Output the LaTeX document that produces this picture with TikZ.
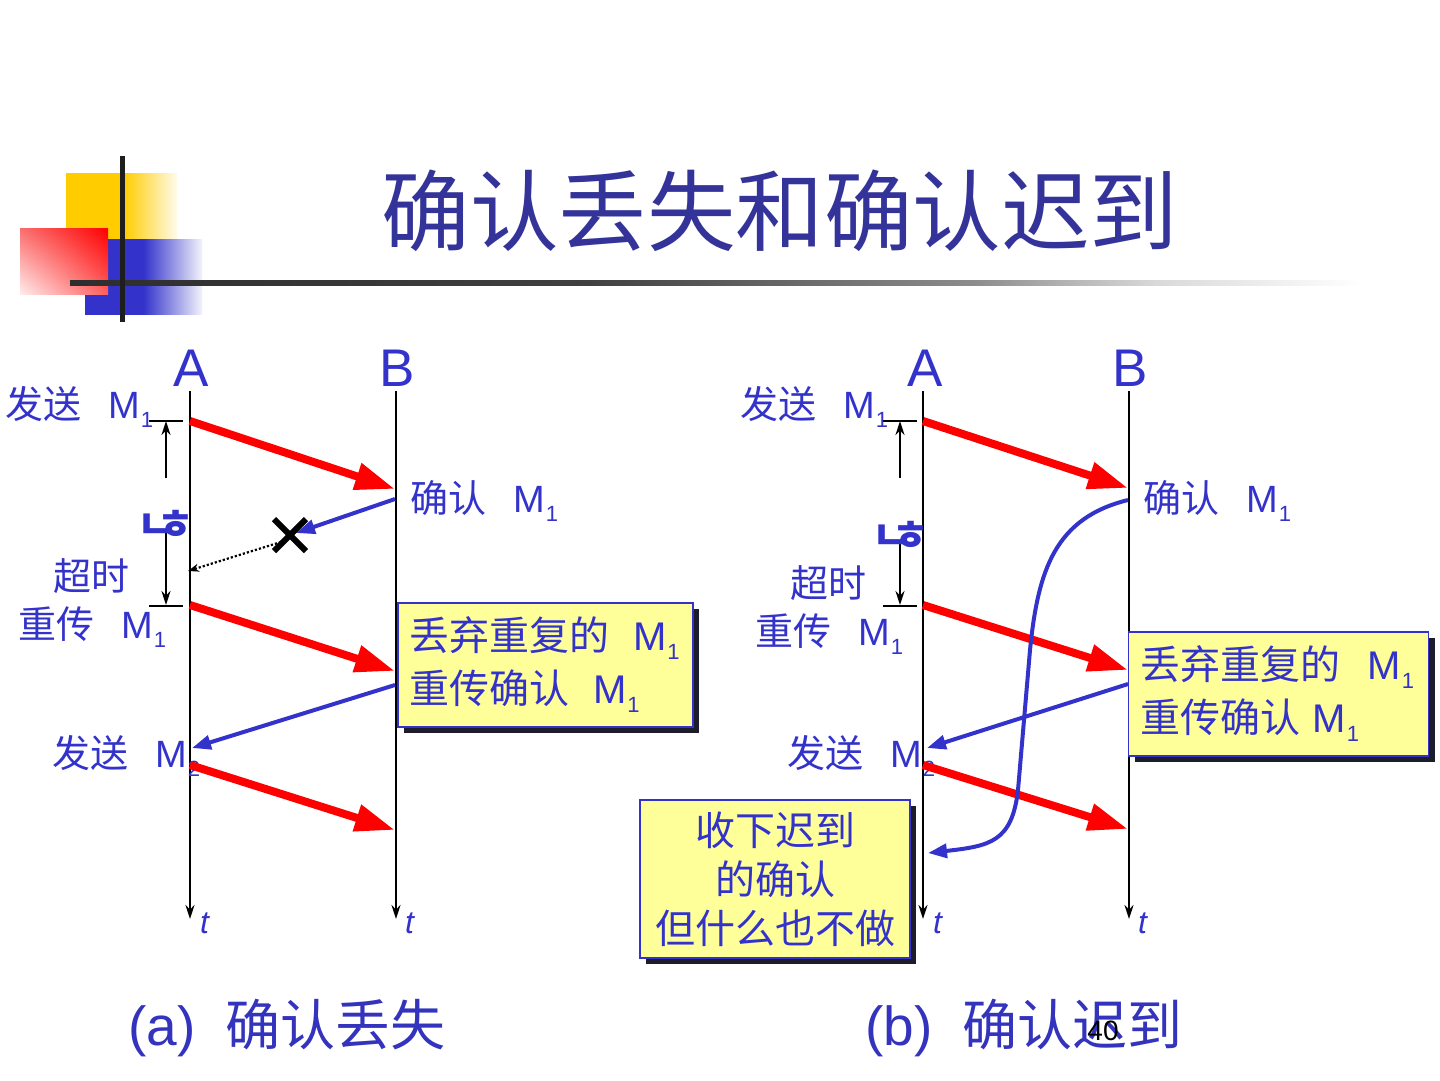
\documentclass[tikz,border=0pt]{standalone}
\usepackage{fontspec}
\setmainfont{Liberation Sans}
\newfontfamily\cjkf{Noto Sans CJK SC}
\newfontfamily\kof{Noto Sans CJK KR}
\usetikzlibrary{arrows.meta,shadows,shadings}
\definecolor{tblue}{RGB}{51,51,204}
\definecolor{ttl}{RGB}{51,51,153}
\definecolor{capb}{RGB}{51,51,190}
\definecolor{boxy}{RGB}{255,255,153}
\definecolor{myred}{RGB}{255,0,0}
\definecolor{myyel}{RGB}{255,204,0}
\definecolor{shd}{RGB}{28,28,45}
\definecolor{decol}{RGB}{30,30,30}
\definecolor{rul}{RGB}{250,110,110}
\definecolor{rur}{RGB}{255,0,0}
\definecolor{rll}{RGB}{255,236,236}
\definecolor{rlr}{RGB}{255,95,95}
\pgfdeclarehorizontalshading{hlsh}{100bp}{color(0bp)=(black!82); color(25bp)=(black!82); color(45bp)=(black!75); color(60bp)=(black!45); color(67bp)=(black!15); color(75bp)=(white); color(100bp)=(white)}
\pgfdeclarehorizontalshading{yelsh}{100bp}{color(0bp)=(myyel); color(25bp)=(myyel); color(51bp)=(myyel); color(75bp)=(myyel!8); color(100bp)=(myyel!8)}
\pgfdeclarehorizontalshading{blush}{100bp}{color(0bp)=(tblue); color(25bp)=(tblue); color(50bp)=(tblue); color(75bp)=(tblue!6); color(100bp)=(tblue!6)}
\newcommand\zh[1]{{\cjkf #1}}
\newcommand\Ms[1]{M\kern1pt{\fontsize{22}{22}\selectfont\raisebox{-9pt}{#1}}}
\tikzset{
  lbl/.style={text=tblue, inner sep=0pt, anchor=base west, font=\fontsize{38}{38}\selectfont},
  bigl/.style={text=tblue, inner sep=0pt, anchor=base, font=\fontsize{53}{53}\selectfont},
  tlab/.style={text=tblue, inner sep=0pt, anchor=base west, font=\fontsize{32}{32}\selectfont\itshape},
  capl/.style={text=capb, inner sep=0pt, anchor=base west, font=\fontsize{55}{55}\selectfont},
  kol/.style={text=tblue, inner sep=0pt, font=\kof\bfseries\fontsize{40}{40}\selectfont},
  tline/.style={line width=2pt, -{Stealth[length=14pt,width=9pt]}},
  tick/.style={line width=2pt},
  timer/.style={line width=2pt, -{Stealth[length=14pt,width=9pt]}},
  redarr/.style={myred, line width=8pt, -{Triangle[length=40pt,width=26pt]}},
  bluearr/.style={tblue, line width=4pt, -{Triangle[length=19pt,width=14pt]}},
  dotarr/.style={line width=2.2pt, dotted, -{Stealth[length=11pt,width=8pt]}},
  xmark/.style={line width=6pt},
  infobox/.style={draw=tblue, line width=1.5pt, fill=boxy, text=tblue,
     font=\fontsize{40}{53}\selectfont, inner xsep=11pt, inner ysep=0pt,
     drop shadow={shadow xshift=6pt, shadow yshift=-6pt, fill=shd, opacity=1}},
}
\begin{document}
\begin{tikzpicture}[x=1pt,y=-1pt]
\useasboundingbox (0,0) rectangle (1440,1080);
% ---------- decoration ----------
\shade[shading=yelsh] (66,173) rectangle (177,239);
\shade[shading=blush] (85,239) rectangle (202,314);
\shade[upper left=rul, upper right=rur, lower left=rll, lower right=rlr] (20,228) rectangle (108,294);
\shade[shading=hlsh] (70,280.5) rectangle (1362,285.5);
\fill[decol] (120,156) rectangle (125,322);
% ---------- title ----------
\node[text=ttl, inner sep=0pt, anchor=base, font=\cjkf\fontsize{88.5}{88.5}\selectfont] (title) at (780,244) {确认丢失和确认迟到};

% ================= (a) =================
\node[bigl] (Aa) at (191,386) {A};
\node[bigl] (Ba) at (397,386) {B};
\coordinate (Aatop) at (190,391); \coordinate (Aabot) at (190,919);
\coordinate (Batop) at (396,391); \coordinate (Babot) at (396,919);
\draw[tline] (Aatop) -- (Aabot);
\draw[tline] (Batop) -- (Babot);
\node[tlab] (ta1) at (200,933) {t};
\node[tlab] (ta2) at (405,933) {t};

\node[lbl] (sa1) at (5,418) {\zh{发送}\hspace{27pt}\Ms{1}};
\node[lbl] (qa1) at (410,512) {\zh{确认}\hspace{27pt}\Ms{1}};
\node[lbl] (csa) at (53,590) {\zh{超时}};
\node[lbl] (cca) at (18,638) {\zh{重传}\hspace{27pt}\Ms{1}};
\node[lbl] (sa2) at (52,767) {\zh{发送}\hspace{27pt}\Ms{2}};

% timer
\coordinate (tka1l) at (149,421); \coordinate (tka1r) at (183,421);
\coordinate (tka2l) at (149,606); \coordinate (tka2r) at (183,606);
\draw[tick] (tka1l) -- (tka1r);
\draw[tick] (tka2l) -- (tka2r);
\coordinate (tma1s) at (166,478); \coordinate (tma1e) at (166,421);
\coordinate (tma2s) at (166,531); \coordinate (tma2e) at (166,605);
\draw[timer] (tma1s) -- (tma1e);
\draw[timer] (tma2s) -- (tma2e);
\node[kol] (koa) at (166,525) {ㄴ\kern-17ptㅎ};

% messages
\coordinate (ra1s) at (190,421); \coordinate (ra1e) at (395,489);
\coordinate (ra2s) at (190,605); \coordinate (ra2e) at (395,671);
\coordinate (ra3s) at (190,765); \coordinate (ra3e) at (395,830);
\draw[redarr] (ra1s) -- (ra1e);
\draw[redarr] (ra2s) -- (ra2e);
\draw[redarr] (ra3s) -- (ra3e);

\coordinate (X) at (290,535);
\coordinate (ba1s) at (395,499); \coordinate (ba1e) at (296,533);
\draw[bluearr] (ba1s) -- (ba1e);
\draw[xmark] (X) ++(-16,-16) -- ++(32,32);
\draw[xmark] (X) ++(16,-16) -- ++(-32,32);
\coordinate (da1s) at (281,542); \coordinate (da1e) at (188,571);
\draw[dotarr] (da1s) -- (da1e);

\coordinate (ba2s) at (395,685); \coordinate (ba2e) at (192,748);
\draw[bluearr] (ba2s) -- (ba2e);

\node[infobox, minimum width=295pt, minimum height=124pt, text width=273pt, align=left] (boxa) at (545.5,665)
  {\zh{丢弃重复的}\hspace{24pt}\Ms{1}\\\zh{重传确认}\hspace{24pt}\Ms{1}};

\node[capl] (capa) at (128,1045) {(a)\hspace{30pt}\zh{确认丢失}};

% ================= (b) =================
\node[bigl] (Ab) at (925,386) {A};
\node[bigl] (Bb) at (1130,386) {B};
\coordinate (Abtop) at (923,391); \coordinate (Abbot) at (923,919);
\coordinate (Bbtop) at (1129,391); \coordinate (Bbbot) at (1129,919);
\draw[tline] (Abtop) -- (Abbot);
\draw[tline] (Bbtop) -- (Bbbot);
\node[tlab] (tb1) at (933,933) {t};
\node[tlab] (tb2) at (1138,933) {t};

\node[lbl] (sb1) at (740,418) {\zh{发送}\hspace{27pt}\Ms{1}};
\node[lbl] (qb1) at (1143,512) {\zh{确认}\hspace{27pt}\Ms{1}};
\node[lbl] (csb) at (790,597) {\zh{超时}};
\node[lbl] (ccb) at (755,645) {\zh{重传}\hspace{27pt}\Ms{1}};
\node[lbl] (sb2) at (787,767) {\zh{发送}\hspace{27pt}\Ms{2}};

\coordinate (tkb1l) at (883,421); \coordinate (tkb1r) at (917,421);
\coordinate (tkb2l) at (883,606); \coordinate (tkb2r) at (917,606);
\draw[tick] (tkb1l) -- (tkb1r);
\draw[tick] (tkb2l) -- (tkb2r);
\coordinate (tmb1s) at (900,478); \coordinate (tmb1e) at (900,421);
\coordinate (tmb2s) at (900,540); \coordinate (tmb2e) at (900,605);
\draw[timer] (tmb1s) -- (tmb1e);
\draw[timer] (tmb2s) -- (tmb2e);
\node[kol] (kob) at (901,536) {ㄴ\kern-17ptㅎ};

\coordinate (rb1s) at (923,421); \coordinate (rb1e) at (1128,488);
\coordinate (rb2s) at (923,605); \coordinate (rb2e) at (1128,670);
\coordinate (rb3s) at (923,765); \coordinate (rb3e) at (1128,829);
\draw[redarr] (rb1s) -- (rb1e);
\draw[redarr] (rb2s) -- (rb2e);
\draw[redarr] (rb3s) -- (rb3e);

\coordinate (cbs) at (1128,500); \coordinate (cbm) at (1030,650);
\coordinate (cbn) at (1018,790); \coordinate (cbe) at (928,853);
\draw[bluearr] (cbs) .. controls (1055,518) and (1038,570) .. (cbm) -- (cbn)
   .. controls (1012,842) and (990,846) .. (cbe);

\coordinate (bb2s) at (1128,684); \coordinate (bb2e) at (927,748);
\draw[bluearr] (bb2s) -- (bb2e);

\node[infobox, minimum width=300pt, minimum height=124pt, text width=276pt, align=left] (boxb) at (1278.5,694)
  {\zh{丢弃重复的}\hspace{27pt}\Ms{1}\\\zh{重传确认}\hspace{12pt}\Ms{1}};

\node[infobox, font=\fontsize{40}{49}\selectfont, minimum width=270pt, minimum height=158pt, align=center] (boxc) at (775,879)
  {\zh{收下迟到}\\\zh{的确认}\\\zh{但什么也不做}};

\node[capl] (capb) at (865,1045) {(b)\hspace{30pt}\zh{确认迟到}};
\node[inner sep=0pt, anchor=base, font=\fontsize{28}{28}\selectfont] (pg) at (1103,1040) {40};
\end{tikzpicture}
\end{document}
